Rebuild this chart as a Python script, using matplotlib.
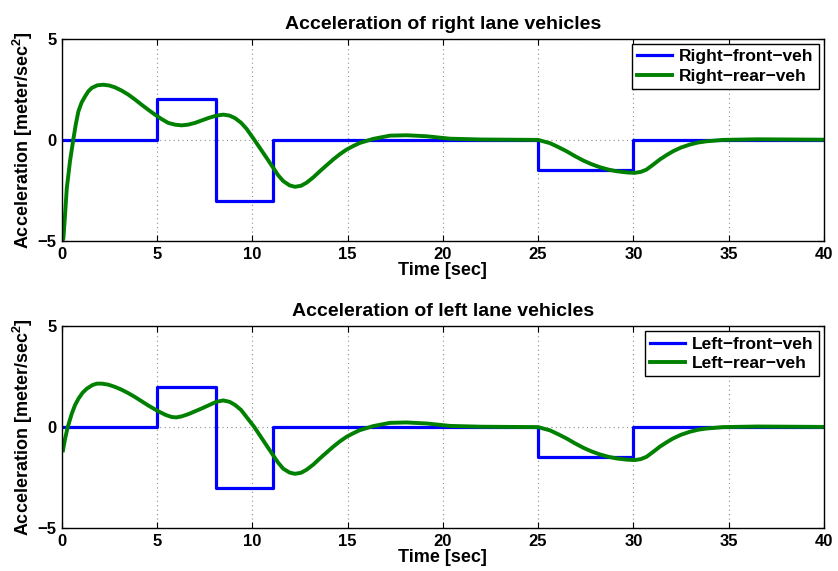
import matplotlib
matplotlib.use("Agg")
import matplotlib.pyplot as plt

# ── data ──────────────────────────────────────────────────────────────────────
# front vehicles: piecewise-constant acceleration (change times, levels)
front_t = [0, 5, 8.1, 11.1, 25, 30, 40]
front_a = [0, 2, -3, 0, -1.5, 0, 0]

# right rear vehicle
right_rear_t = [0.0, 0.07, 0.16, 0.25, 0.42, 0.59, 0.72, 0.86, 1.03, 1.21, 1.38,
                1.56, 1.85, 2.17, 2.48, 2.78, 3.13, 3.48, 3.83, 4.18, 4.53, 4.88,
                5.23, 5.58, 5.95, 6.28, 6.6, 6.98, 7.33, 7.68, 8.1, 8.47, 8.8,
                9.08, 9.4, 9.69, 10.1, 10.39, 10.75, 11.09, 11.35, 11.62, 11.95,
                12.23, 12.55, 12.84, 13.2, 13.54, 13.9, 14.24, 14.6, 14.94, 15.3,
                15.64, 16.34, 17.22, 18.09, 19.14, 20.37, 22.0, 25.0, 25.62,
                26.05, 26.49, 26.93, 27.37, 27.8, 28.24, 28.7, 29.12, 29.65,
                30.08, 30.4, 30.69, 31.05, 31.39, 31.75, 32.09, 32.5, 32.97,
                33.4, 33.84, 34.71, 36.5, 40.0]
right_rear_a = [-5.0, -4.9, -3.7, -2.4, -1.05, 0.0, 0.75, 1.41, 1.85, 2.15, 2.4,
                2.57, 2.7, 2.73, 2.69, 2.6, 2.44, 2.24, 2.0, 1.74, 1.49, 1.25,
                1.03, 0.84, 0.75, 0.72, 0.75, 0.84, 0.96, 1.08, 1.2, 1.25, 1.2,
                1.08, 0.85, 0.55, 0.0, -0.4, -0.9, -1.38, -1.75, -2.04, -2.25,
                -2.32, -2.27, -2.12, -1.85, -1.55, -1.25, -0.97, -0.7, -0.48,
                -0.3, -0.15, 0.05, 0.21, 0.23, 0.18, 0.06, 0.02, 0.0, -0.16,
                -0.35, -0.56, -0.8, -1.02, -1.2, -1.35, -1.47, -1.55, -1.61,
                -1.63, -1.58, -1.47, -1.22, -0.97, -0.75, -0.56, -0.38, -0.23,
                -0.13, -0.07, 0.0, 0.03, 0.01]

# left rear vehicle
left_rear_t = [0.05, 0.16, 0.3, 0.51, 0.68, 0.86, 1.08, 1.3, 1.6, 1.82, 2.1,
               2.43, 2.78, 3.13, 3.48, 3.83, 4.18, 4.53, 5.06, 5.45, 5.76, 6.0,
               6.28, 6.63, 6.98, 7.33, 7.68, 8.1, 8.47, 8.8, 9.08, 9.4, 9.69,
               10.1, 10.39, 10.75, 11.09, 11.35, 11.62, 11.95, 12.23, 12.55,
               12.84, 13.2, 13.54, 13.9, 14.24, 14.6, 14.94, 15.3, 15.64, 16.34,
               17.22, 18.09, 19.14, 20.37, 22.0, 25.0, 25.62, 26.05, 26.49,
               26.93, 27.37, 27.8, 28.24, 28.7, 29.12, 29.65, 30.08, 30.4,
               30.69, 31.05, 31.39, 31.75, 32.09, 32.5, 32.97, 33.4, 33.84,
               34.71, 36.5, 40.0]
left_rear_a = [-1.15, -0.58, 0.0, 0.66, 1.08, 1.4, 1.7, 1.9, 2.08, 2.15, 2.15,
               2.1, 1.99, 1.85, 1.68, 1.49, 1.28, 1.07, 0.78, 0.6, 0.5, 0.48,
               0.53, 0.64, 0.78, 0.92, 1.07, 1.25, 1.32, 1.25, 1.1, 0.85, 0.5,
               0.0, -0.41, -0.92, -1.4, -1.76, -2.06, -2.25, -2.31, -2.26,
               -2.11, -1.85, -1.55, -1.25, -0.97, -0.7, -0.48, -0.3, -0.15,
               0.05, 0.21, 0.23, 0.18, 0.06, 0.02, 0.0, -0.16, -0.35, -0.56,
               -0.8, -1.02, -1.2, -1.35, -1.47, -1.55, -1.61, -1.63, -1.58,
               -1.47, -1.22, -0.97, -0.75, -0.56, -0.38, -0.23, -0.13, -0.07,
               0.0, 0.03, 0.01]

x_ticks = [0, 5, 10, 15, 20, 25, 30, 35, 40]
y_ticks = [-5, 0, 5]

panels = [
    ("Acceleration of right lane vehicles", right_rear_t, right_rear_a,
     ["Right\u2212front\u2212veh", "Right\u2212rear\u2212veh"]),
    ("Acceleration of left lane vehicles", left_rear_t, left_rear_a,
     ["Left\u2212front\u2212veh", "Left\u2212rear\u2212veh"]),
]

# ── style ─────────────────────────────────────────────────────────────────────
plt.rcParams['font.family'] = ['Liberation Sans', 'DejaVu Sans']
plt.rcParams['font.weight'] = 'bold'
plt.rcParams['axes.labelweight'] = 'bold'
plt.rcParams['axes.titleweight'] = 'bold'
plt.rcParams['mathtext.fontset'] = 'custom'
plt.rcParams['mathtext.bf'] = 'Liberation Sans:bold'
plt.rcParams['mathtext.rm'] = 'Liberation Sans:bold'
plt.rcParams['mathtext.default'] = 'bf'

fig = plt.figure(figsize=(8.38, 5.71), dpi=100)
boxes = [[0.074, 0.578, 0.909, 0.354], [0.074, 0.075, 0.909, 0.354]]

for box, (title, gt, ga, labels) in zip(boxes, panels):
    ax = fig.add_axes(box)
    ax.plot(front_t, front_a, drawstyle='steps-post', color=(0, 0, 1),
            lw=2.3, label=labels[0])
    ax.plot(gt, ga, color=(0, 0.5, 0), lw=2.8, label=labels[1])
    ax.set_xlim(0, 40)
    ax.set_ylim(-5, 5)
    ax.set_xticks(x_ticks)
    ax.set_yticks(y_ticks)
    ax.set_yticklabels(['\u22125', '0', '5'])
    ax.grid(True, linestyle=(0, (1, 3)), color='0.55', lw=0.8)
    ax.tick_params(direction='in', top=True, right=True, length=4,
                   labelsize=12, pad=4)
    for s in ax.spines.values():
        s.set_linewidth(1.0)
    ax.set_title(title, fontsize=14, pad=7)
    ax.set_xlabel('Time [sec]', fontsize=13, labelpad=0.5)
    ax.set_ylabel(r'Acceleration [meter/sec$^2$]', fontsize=13, labelpad=2)
    leg = ax.legend(loc='upper right', fontsize=12.5, handlelength=2.0,
                    borderpad=0.3, labelspacing=0.25, handletextpad=0.4,
                    borderaxespad=0.3, fancybox=False, framealpha=1)
    leg.get_frame().set_edgecolor('black')
    leg.get_frame().set_linewidth(1.0)

fig.savefig("out.png", dpi=100)
